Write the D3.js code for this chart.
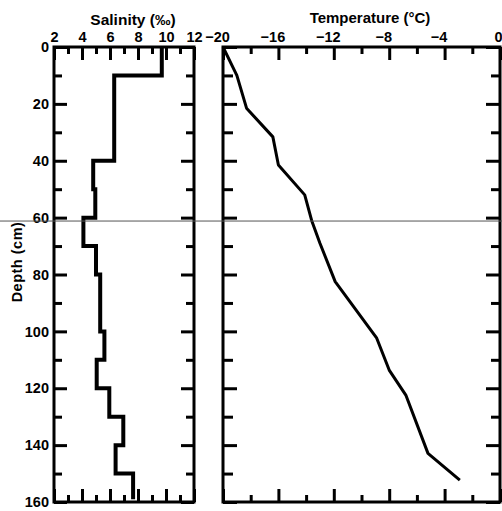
<!DOCTYPE html>
<html>
<head>
<meta charset="utf-8">
<script src="https://cdn.jsdelivr.net/npm/d3@7"></script>
<style>
  body { margin: 0; background: #fff; }
  svg { display: block; }
  text { font-family: 'Liberation Sans', Arial, sans-serif; font-weight: bold; fill: #000; }
</style>
</head>
<body>
<svg width="502" height="511"></svg>
<script>
// salinity profile: value held from each top depth down to the next one
const salDepthTop = [0, 10, 40, 50, 60, 70, 80, 100, 110, 120, 130, 140, 150]
const salValues = [9.7, 6.3, 4.8, 4.95, 4.1, 5.0, 5.3, 5.6, 5.05, 5.95, 6.95, 6.4, 7.65]
const salBottom = 159

// temperature profile
const tempDepth = [0, 10, 21.5, 31.6, 41.5, 52, 61, 69, 82.5, 102.4, 113.6, 122.4, 142.9, 152.3]
const tempValues = [-20, -19.0, -18.3, -16.4, -16.0, -14.1, -13.6, -13.0, -11.9, -8.9, -8.0, -6.8, -5.2, -2.9]

const salTicks = [2, 4, 6, 8, 10, 12]
const tempTicks = [-20, -16, -12, -8, -4, 0]
const depthTicks = [0, 20, 40, 60, 80, 100, 120, 140, 160]
const markDepth = 61.2

const svg = d3.select('svg')

const y = d3.scaleLinear().domain([0, 160]).range([47, 502])
const xs = d3.scaleLinear().domain([2, 12]).range([54, 194])
const xt = d3.scaleLinear().domain([-20, 0]).range([223, 500])

const minorSal = d3.range(3, 12, 2)
const minorTemp = d3.range(-18, 0, 4)
const minorDepth = d3.range(10, 160, 20)

function styleAxis (g) {
  g.select('.domain').remove()
  g.selectAll('.tick line').attr('stroke', '#000').attr('stroke-width', 3)
  g.selectAll('.tick text').attr('font-size', 14.5)
}

function ticksOnly (axis, vals, len) {
  return axis.tickValues(vals).tickSizeInner(-len).tickSizeOuter(0).tickFormat('')
}

// ---- left panel (salinity)
svg.append('g').attr('transform', 'translate(0,' + y(0) + ')')
  .call(d3.axisTop(xs).tickValues(salTicks).tickSizeInner(-13).tickSizeOuter(0).tickPadding(5).tickFormat(d3.format('d')))
  .call(styleAxis)
svg.append('g').attr('transform', 'translate(0,' + y(0) + ')')
  .call(ticksOnly(d3.axisTop(xs), minorSal, 7)).call(styleAxis)
svg.append('g').attr('transform', 'translate(0,' + y(160) + ')')
  .call(ticksOnly(d3.axisBottom(xs), salTicks, 13)).call(styleAxis)
svg.append('g').attr('transform', 'translate(0,' + y(160) + ')')
  .call(ticksOnly(d3.axisBottom(xs), minorSal, 7)).call(styleAxis)

svg.append('g').attr('transform', 'translate(' + xs(2) + ',0)')
  .call(d3.axisLeft(y).tickValues(depthTicks).tickSizeInner(-13).tickSizeOuter(0).tickPadding(5))
  .call(styleAxis)
svg.append('g').attr('transform', 'translate(' + xs(2) + ',0)')
  .call(ticksOnly(d3.axisLeft(y), minorDepth, 8)).call(styleAxis)
svg.append('g').attr('transform', 'translate(' + xs(12) + ',0)')
  .call(ticksOnly(d3.axisRight(y), depthTicks, 13)).call(styleAxis)
svg.append('g').attr('transform', 'translate(' + xs(12) + ',0)')
  .call(ticksOnly(d3.axisRight(y), minorDepth, 8)).call(styleAxis)

// ---- right panel (temperature)
const tTop = svg.append('g').attr('transform', 'translate(0,' + y(0) + ')')
  .call(d3.axisTop(xt).tickValues(tempTicks).tickSizeInner(-13).tickSizeOuter(0).tickPadding(5).tickFormat(d3.format('d')))
  .call(styleAxis)
tTop.selectAll('.tick text').attr('dx', d => d < 0 ? -6 : -2)
svg.append('g').attr('transform', 'translate(0,' + y(0) + ')')
  .call(ticksOnly(d3.axisTop(xt), minorTemp, 7)).call(styleAxis)
svg.append('g').attr('transform', 'translate(0,' + y(160) + ')')
  .call(ticksOnly(d3.axisBottom(xt), tempTicks, 13)).call(styleAxis)
svg.append('g').attr('transform', 'translate(0,' + y(160) + ')')
  .call(ticksOnly(d3.axisBottom(xt), minorTemp, 7)).call(styleAxis)
svg.append('g').attr('transform', 'translate(' + xt(-20) + ',0)')
  .call(ticksOnly(d3.axisLeft(y), depthTicks, 14)).call(styleAxis)
svg.append('g').attr('transform', 'translate(' + xt(-20) + ',0)')
  .call(ticksOnly(d3.axisLeft(y), minorDepth, 10)).call(styleAxis)
svg.append('g').attr('transform', 'translate(' + xt(0) + ',0)')
  .call(ticksOnly(d3.axisRight(y), depthTicks, 14)).call(styleAxis)
svg.append('g').attr('transform', 'translate(' + xt(0) + ',0)')
  .call(ticksOnly(d3.axisRight(y), minorDepth, 9)).call(styleAxis)

// frames
svg.append('rect')
  .attr('x', xs(2)).attr('y', y(0))
  .attr('width', xs(12) - xs(2)).attr('height', y(160) - y(0))
  .attr('fill', 'none').attr('stroke', '#000').attr('stroke-width', 3)
svg.append('rect')
  .attr('x', xt(-20)).attr('y', y(0))
  .attr('width', xt(0) - xt(-20)).attr('height', y(160) - y(0))
  .attr('fill', 'none').attr('stroke', '#000').attr('stroke-width', 3)

// salinity step line
const salPts = []
salValues.forEach((v, i) => {
  const bottom = i < salValues.length - 1 ? salDepthTop[i + 1] : salBottom
  salPts.push([v, salDepthTop[i]], [v, bottom])
})
svg.append('path')
  .datum(salPts)
  .attr('fill', 'none').attr('stroke', '#000').attr('stroke-width', 4)
  .attr('stroke-linejoin', 'miter')
  .attr('d', d3.line().x(d => xs(d[0])).y(d => y(d[1])))

// temperature line
svg.append('path')
  .datum(tempValues.map((v, i) => [v, tempDepth[i]]))
  .attr('fill', 'none').attr('stroke', '#000').attr('stroke-width', 3)
  .attr('stroke-linejoin', 'round')
  .attr('d', d3.line().x(d => xt(d[0])).y(d => y(d[1])))

// thin horizontal mark across the figure
svg.append('line')
  .attr('x1', 0).attr('x2', 502)
  .attr('y1', y(markDepth)).attr('y2', y(markDepth))
  .attr('stroke', '#555').attr('stroke-width', 1)

// titles
svg.append('text').attr('x', 133).attr('y', 25)
  .attr('text-anchor', 'middle').attr('font-size', 15.5)
  .text('Salinity (‰)')
svg.append('text').attr('x', 370).attr('y', 23)
  .attr('text-anchor', 'middle').attr('font-size', 15)
  .text('Temperature (°C)')
svg.append('text')
  .attr('transform', 'translate(22,262) rotate(-90)')
  .attr('text-anchor', 'middle').attr('font-size', 14.5)
  .attr('letter-spacing', 0.5)
  .text('Depth (cm)')
</script>
</body>
</html>
